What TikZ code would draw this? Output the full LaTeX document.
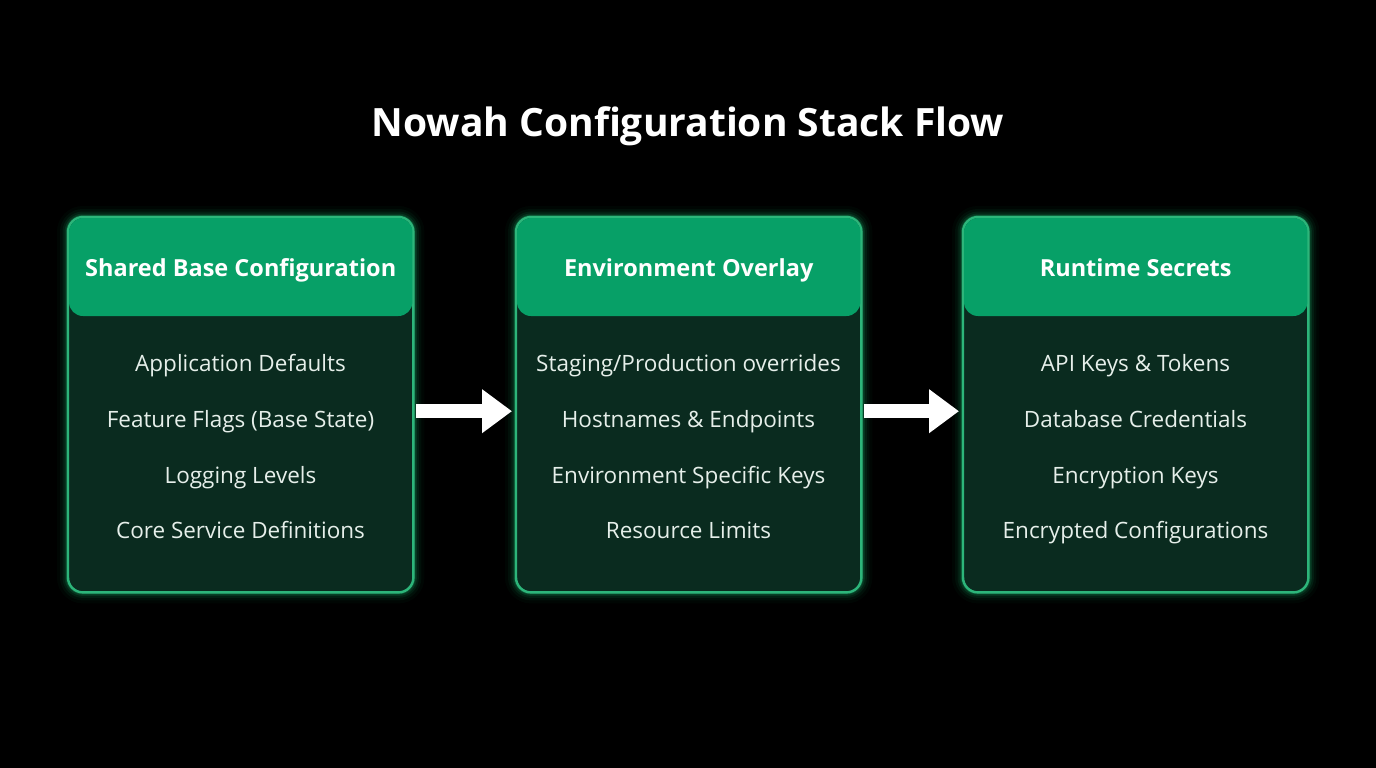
\documentclass[tikz,border=0pt]{standalone}
\usepackage{fontspec}
\setmainfont{Open Sans}
\usetikzlibrary{arrows.meta}
\definecolor{bg}{HTML}{000000}
\definecolor{hdr}{HTML}{07A067}
\definecolor{bodyc}{HTML}{0A2B1F}
\definecolor{edge}{HTML}{2DB57A}
\definecolor{glow}{HTML}{1FD17F}
\definecolor{itemc}{HTML}{E6EFEA}
\tikzset{
  x=1pt, y=-1pt,
  panel/.style={minimum width=345pt, minimum height=375pt, inner sep=0pt, anchor=north west},
  itemtxt/.style={text=itemc, font=\fontsize{22.5}{25}\selectfont, anchor=center, text height=16pt, text depth=5pt, inner sep=0pt},
  hdrtxt/.style={text=white, font=\fontsize{23.5}{26}\selectfont\bfseries, anchor=center, text height=17pt, text depth=5pt, inner sep=0pt},
  flow/.style={draw=white, line width=14pt, -{Triangle[length=30pt,width=42pt]}, shorten <=3pt, shorten >=4pt}
}
\newcommand{\drawpanel}[3]{%
  \node[panel] (#1) at (#2,217) {};
  \foreach \w/\o in {22/0.03,16/0.05,11/0.08,7/0.12,4/0.2}{
    \draw[glow, line width=\w pt, opacity=\o, rounded corners=15pt] (#1.north west) rectangle (#1.south east);
  }
  \fill[bodyc, rounded corners=15pt] (#1.north west) rectangle (#1.south east);
  \draw[edge, line width=2.4pt, rounded corners=15pt] (#1.north west) rectangle (#1.south east);
  \fill[hdr, rounded corners=14pt] ([xshift=1pt,yshift=-1pt]#1.north west) rectangle ([xshift=-1pt,yshift=-99pt]#1.north east);
  \node[hdrtxt] (#1h) at ([yshift=-53pt]#1.north) {#3};
}
\begin{document}
\begin{tikzpicture}
\useasboundingbox (0,0) rectangle (1376,768);
\fill[bg] (0,0) rectangle (1376,768);
\node[text=white, font=\fontsize{39}{44}\selectfont\bfseries, text height=29pt, text depth=9pt, inner sep=0pt] (title) at (688,126) {Nowah Configuration Stack Flow};

\drawpanel{p1}{68}{Shared Base Configuration}
\drawpanel{p2}{516}{Environment Overlay}
\drawpanel{p3}{963}{Runtime Secrets}

\node[itemtxt] (a1) at (240.5,366) {Application Defaults};
\node[itemtxt] (a2) at (240.5,422) {Feature Flags (Base State)};
\node[itemtxt] (a3) at (240.5,478) {Logging Levels};
\node[itemtxt] (a4) at (240.5,533) {Core Service Definitions};

\node[itemtxt] (b1) at (688.5,366) {Staging/Production overrides};
\node[itemtxt] (b2) at (688.5,422) {Hostnames \& Endpoints};
\node[itemtxt] (b3) at (688.5,478) {Environment Specific Keys};
\node[itemtxt] (b4) at (688.5,533) {Resource Limits};

\node[itemtxt] (c1) at (1135.5,366) {API Keys \& Tokens};
\node[itemtxt] (c2) at (1135.5,422) {Database Credentials};
\node[itemtxt] (c3) at (1135.5,478) {Encryption Keys};
\node[itemtxt] (c4) at (1135.5,533) {Encrypted Configurations};

\draw[flow] ([yshift=-6.5pt]p1.east) -- ([yshift=-6.5pt]p2.west);
\draw[flow] ([yshift=-6.5pt]p2.east) -- ([yshift=-6.5pt]p3.west);
\end{tikzpicture}
\end{document}
